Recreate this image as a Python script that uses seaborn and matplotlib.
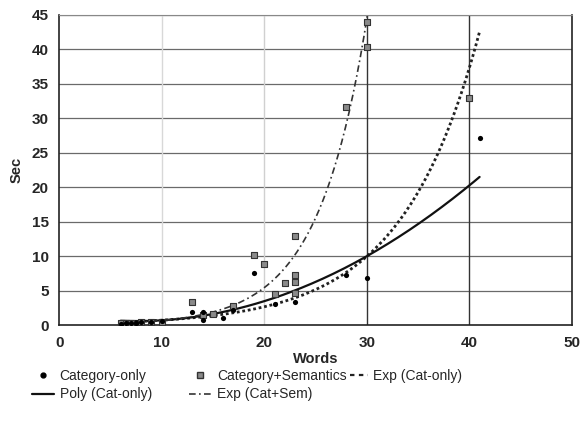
import numpy as np
import pandas as pd
import matplotlib
matplotlib.use("Agg")
import matplotlib.pyplot as plt
import seaborn as sns
from matplotlib.lines import Line2D

# ---- data ----
cat_only_x = [6, 6.5, 7, 7.5, 8, 9, 10, 13, 14, 14, 16, 17, 19, 21, 23, 28, 30, 41]
cat_only_y = [0.2, 0.25, 0.3, 0.3, 0.4, 0.5, 0.6, 1.9, 1.9, 0.8, 1.1, 2.2, 7.5, 3.1, 3.4, 7.2, 6.9, 27.2]

catsem_x = [6, 6.5, 7, 8, 9, 10, 13, 14, 15, 17, 19, 20, 21, 22, 23, 23, 23, 23, 28, 30, 30, 40]
catsem_y = [0.3, 0.3, 0.35, 0.45, 0.5, 0.4, 3.3, 1.5, 1.6, 2.8, 10.2, 8.9, 4.5, 6.1, 12.9, 7.3, 6.3, 4.7, 31.7, 40.3, 44.0, 33.0]

# trendline coefficients (as displayed by the chart's trendlines)
exp_cat_a, exp_cat_b = 0.19, 0.132          # y = a*exp(b*x)
exp_sem_a, exp_sem_b = 0.0815, 0.21
poly_c2, poly_c1, poly_c0 = 0.01872, -0.284, 1.668
trend_x_range = (6, 41)
sem_x_range = (6, 30.1)

x_ticks = [0, 10, 20, 30, 40, 50]
y_ticks = [0, 5, 10, 15, 20, 25, 30, 35, 40, 45]

sns.set_style("white")
plt.rcParams['font.family'] = ['Liberation Sans', 'DejaVu Sans']

fig = plt.figure(figsize=(5.8, 4.25), dpi=100)
ax = fig.add_axes([0.102, 0.235, 0.884, 0.73])

# grid
for yv in y_ticks[1:]:
    ax.axhline(yv, color='#6a6a6a', lw=0.9, zorder=0)
for xv, c in zip([10, 20, 30, 40], ['#d8d8d8', '#d0d0d0', '#333333', '#333333']):
    ax.axvline(xv, color=c, lw=1.0, zorder=0)

df_c = pd.DataFrame({'x': cat_only_x, 'y': cat_only_y})
df_s = pd.DataFrame({'x': catsem_x, 'y': catsem_y})

xt = np.linspace(*trend_x_range, 200)
xs = np.linspace(*sem_x_range, 200)
df_ec = pd.DataFrame({'x': xt, 'y': exp_cat_a * np.exp(exp_cat_b * xt)})
df_p = pd.DataFrame({'x': xt, 'y': poly_c2 * xt**2 + poly_c1 * xt + poly_c0})
df_es = pd.DataFrame({'x': xs, 'y': exp_sem_a * np.exp(exp_sem_b * xs)})

sns.scatterplot(data=df_s, x='x', y='y', ax=ax, marker='s', s=16,
                color='#8a8a8a', edgecolor='#333333', linewidth=0.8, zorder=3)
sns.scatterplot(data=df_c, x='x', y='y', ax=ax, marker='o', s=14,
                color='black', edgecolor='black', linewidth=0, zorder=4)
sns.lineplot(data=df_ec, x='x', y='y', ax=ax, color='#222222', lw=2.0,
             linestyle=(0, (1, 1)), zorder=2)
sns.lineplot(data=df_p, x='x', y='y', ax=ax, color='#111111', lw=1.6, zorder=2)
sns.lineplot(data=df_es, x='x', y='y', ax=ax, color='#333333', lw=1.2,
             linestyle=(0, (4, 2, 1, 2)), zorder=2)

ax.set_xlim(0, 50)
ax.set_ylim(0, 45)
ax.set_xticks(x_ticks)
ax.set_yticks(y_ticks)
ax.tick_params(axis='both', labelsize=11, length=4, direction='out',
               color='#222222', width=1)
for lab in ax.get_xticklabels() + ax.get_yticklabels():
    lab.set_fontweight('bold')
ax.set_xlabel('Words', fontsize=10.5, fontweight='bold', labelpad=2)
ax.set_ylabel('Sec', fontsize=10.5, fontweight='bold', labelpad=6)
for side in ['left', 'bottom', 'right']:
    ax.spines[side].set_color('#222222')
    ax.spines[side].set_linewidth(1.2)
ax.spines['top'].set_color('#888888')
ax.spines['top'].set_linewidth(0.8)

h_dot = Line2D([], [], marker='o', color='black', ls='none', markersize=3.5)
h_poly = Line2D([], [], color='#111111', lw=1.6)
h_sq = Line2D([], [], marker='s', color='#8a8a8a', markeredgecolor='#333333',
              ls='none', markersize=4)
h_es = Line2D([], [], color='#333333', lw=1.2, linestyle=(0, (4, 2, 1, 2)))
h_ec = Line2D([], [], color='#222222', lw=1.6, linestyle=(0, (2, 2)))

columns = [
    ([h_dot, h_poly], ['Category-only', 'Poly (Cat-only)'], 0.055, 1.6),
    ([h_sq, h_es], ['Category+Semantics', 'Exp (Cat+Sem)'], 0.326, 1.6),
    ([h_ec], ['Exp (Cat-only)'], 0.603, 1.3),
]
for hs, ls, xpos, hl in columns:
    fig.legend(hs, ls, loc='upper left', bbox_to_anchor=(xpos, 0.131),
               ncol=1, frameon=False, handlelength=hl, handletextpad=0.4,
               labelspacing=0.3, borderaxespad=0, borderpad=0,
               prop={'size': 10})

fig.savefig('out.png', dpi=100)
